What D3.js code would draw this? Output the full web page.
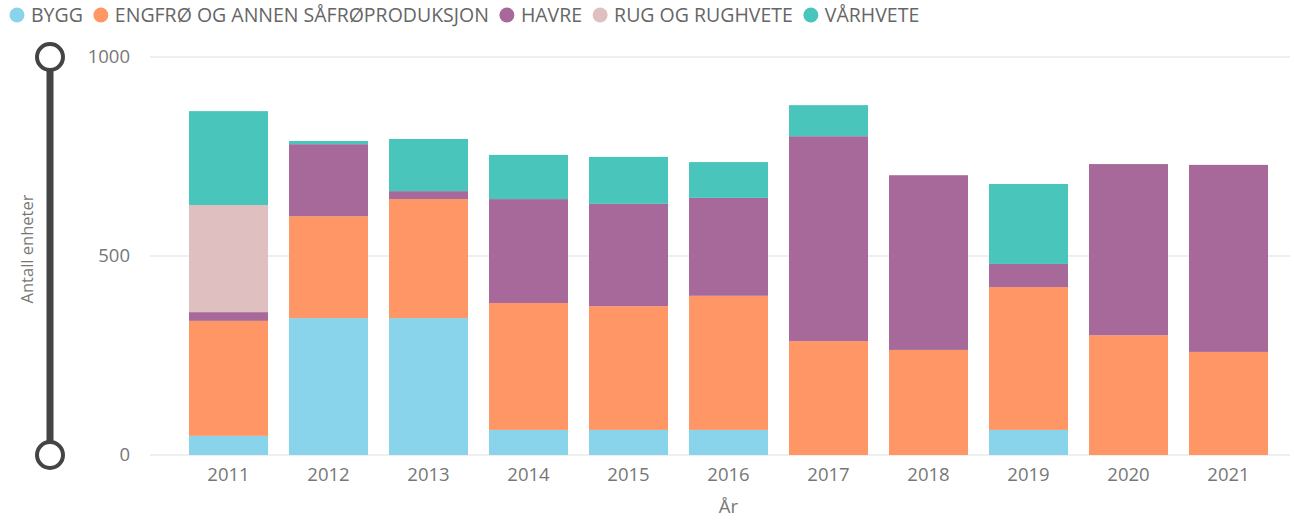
<!DOCTYPE html>
<html>
<head>
<meta charset="utf-8">
<script src="https://cdn.jsdelivr.net/npm/d3@7/dist/d3.min.js"></script>
<style>
  body { margin: 0; background: #fff; }
  text { font-family: "Open Sans", "Noto Sans", sans-serif; }
</style>
</head>
<body>
<script>
// years on the x axis
var years = ["2011", "2012", "2013", "2014", "2015", "2016", "2017", "2018", "2019", "2020", "2021"];

// series, bottom to top
var seriesNames = ["BYGG", "ENGFRØ OG ANNEN SÅFRØPRODUKSJON", "HAVRE", "RUG OG RUGHVETE", "VÅRHVETE"];
var bygg     = [48, 344, 344, 63, 63, 63, 0, 0, 63, 0, 0];
var engfro   = [289, 256, 299, 319, 311, 337, 286, 264, 359, 301, 259];
var havre    = [22, 181, 20, 261, 257, 246, 515, 439, 58, 430, 470];
var rug      = [269, 0, 0, 0, 0, 0, 0, 0, 0, 0, 0];
var varhvete = [236, 8, 131, 111, 118, 90, 78, 0, 201, 0, 0];
var colors = ["#8AD4EB", "#FE9666", "#A66999", "#DFBFBF", "#4AC5BB"];
var yTicks = [0, 500, 1000];

var W = 1294, H = 520;
var svg = d3.select("body").append("svg")
    .attr("width", W)
    .attr("height", H);

// build rows for the stack
var cols = [bygg, engfro, havre, rug, varhvete];
var rows = years.map(function(y, i) {
  var r = {year: y};
  seriesNames.forEach(function(s, j) { r[s] = cols[j][i]; });
  return r;
});
var stacked = d3.stack().keys(seriesNames)(rows);

var x = d3.scaleBand().domain(years).range([150, 1307]).paddingInner(0.21).paddingOuter(0.39);
var y = d3.scaleLinear().domain([0, 1000]).range([455, 57]);
var color = d3.scaleOrdinal().domain(seriesNames).range(colors);

// gridlines
svg.append("g").selectAll("line")
    .data(yTicks)
  .enter().append("line")
    .attr("x1", 150).attr("x2", 1290)
    .attr("y1", function(d) { return y(d); })
    .attr("y2", function(d) { return y(d); })
    .attr("stroke", "#eaeaea")
    .attr("stroke-width", 1.5);

// y tick labels
svg.append("g").selectAll("text")
    .data(yTicks)
  .enter().append("text")
    .attr("x", 130)
    .attr("y", function(d) { return y(d); })
    .attr("dy", "0.35em")
    .attr("text-anchor", "end")
    .attr("fill", "#777")
    .style("font-size", "18.5px")
    .text(function(d) { return d; });

// the slider on the left
svg.append("line")
    .attr("x1", 50).attr("x2", 50)
    .attr("y1", y(1000)).attr("y2", y(0))
    .attr("stroke", "#444").attr("stroke-width", 7);
svg.selectAll(".knob")
    .data([1000, 0])
  .enter().append("circle")
    .attr("class", "knob")
    .attr("cx", 50)
    .attr("cy", function(d) { return y(d); })
    .attr("r", 13)
    .attr("fill", "#fff")
    .attr("stroke", "#444")
    .attr("stroke-width", 4);

svg.append("text")
    .attr("transform", "translate(33," + (y(500) - 7) + ") rotate(-90)")
    .attr("text-anchor", "middle")
    .attr("fill", "#777")
    .style("font-size", "16.5px")
    .text("Antall enheter");

// bars
svg.append("g").selectAll("g")
    .data(stacked)
  .enter().append("g")
    .attr("fill", function(d) { return color(d.key); })
  .selectAll("rect")
    .data(function(d) { return d; })
  .enter().append("rect")
    .attr("x", function(d) { return x(d.data.year); })
    .attr("y", function(d) { return y(d[1]); })
    .attr("height", function(d) { return y(d[0]) - y(d[1]); })
    .attr("width", x.bandwidth());

// x axis
var xAxis = svg.append("g")
    .attr("transform", "translate(0,463)")
    .call(d3.axisBottom(x).tickSize(0).tickPadding(0));
xAxis.select(".domain").remove();
xAxis.selectAll("text")
    .attr("dy", "0.35em")
    .attr("y", 12)
    .attr("fill", "#777")
    .style("font-size", "18.5px")
    .style("font-family", "'Open Sans', sans-serif");

svg.append("text")
    .attr("x", (x(years[0]) + x(years[years.length - 1]) + x.bandwidth()) / 2)
    .attr("y", 507)
    .attr("dy", "0.35em")
    .attr("text-anchor", "middle")
    .attr("fill", "#777")
    .style("font-size", "18.5px")
    .text("År");

// legend
var lx = 17;
seriesNames.forEach(function(s, i) {
  svg.append("circle")
      .attr("cx", lx).attr("cy", 15).attr("r", 7.5)
      .attr("fill", colors[i]);
  var t = svg.append("text")
      .attr("x", lx + 14)
      .attr("y", 15)
      .attr("dy", "0.35em")
      .attr("fill", "#666")
      .style("font-size", "19.5px")
      .text(s);
  lx += 14 + t.node().getComputedTextLength() + 18;
});
</script>
</body>
</html>
